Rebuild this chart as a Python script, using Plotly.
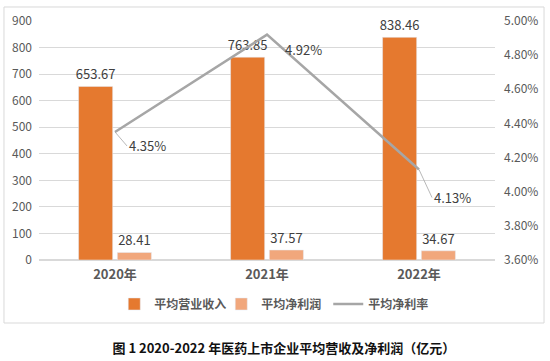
import plotly.graph_objects as go

categories = ["2020年", "2021年", "2022年"]
revenue = [653.67, 763.85, 838.46]
profit = [28.41, 37.57, 34.67]
margin = [0.0435, 0.0492, 0.0413]
margin_labels = ["4.35%", "4.92%", "4.13%"]
title_text = "图 1 2020-2022 年医药上市企业平均营收及净利润（亿元）"

FONT = "Noto Sans CJK SC"
fig = go.Figure()
fig.add_trace(go.Bar(
    x=categories, y=revenue, name="平均营业收入",
    marker=dict(color="#E5792F"),
    texttemplate="%{y:.2f}", textposition="outside", constraintext="none",
    textfont=dict(size=13, color="#404040", family=FONT),
    cliponaxis=False,
))
fig.add_trace(go.Bar(
    x=categories, y=profit, name="平均净利润",
    marker=dict(color="#F1A77C"),
    texttemplate="%{y:.2f}", textposition="outside", constraintext="none",
    textfont=dict(size=13, color="#404040", family=FONT),
    cliponaxis=False,
))
fig.add_trace(go.Scatter(
    x=categories, y=margin, name="平均净利率", yaxis="y2",
    mode="lines", line=dict(color="#A6A6A6", width=2.5),
    cliponaxis=False,
))

offsets = [(12, 14), (16, 15), (13, 28)]
for c, v, t, (ax, ay) in zip(categories, margin, margin_labels, offsets):
    fig.add_annotation(
        x=c, y=v, xref="x", yref="y2", text=t,
        showarrow=True, arrowhead=0, arrowwidth=0.8, arrowcolor="#A6A6A6",
        ax=ax, ay=ay, xanchor="left", yanchor="middle",
        font=dict(size=13, color="#404040", family=FONT),
    )

# outer chart frame
fig.add_shape(type="rect", xref="paper", yref="paper",
              x0=-0.0768, x1=1.1075, y0=-0.2636, y1=1.0586,
              line=dict(color="#D9D9D9", width=1), layer="below")

fig.update_layout(
    width=550, height=361,
    margin=dict(l=39, r=55, t=21, b=101),
    paper_bgcolor="white", plot_bgcolor="white",
    font=dict(family=FONT, color="#595959", size=12),
    barmode="group", bargap=0.49, bargroupgap=0.12,
    showlegend=True,
    legend=dict(orientation="h", x=0.517, xanchor="center", y=-0.184, yanchor="middle",
                font=dict(size=12, color="#595959", family=FONT, weight="bold"),
                itemwidth=30, traceorder="normal", entrywidth=62, entrywidthmode="pixels"),
    xaxis=dict(showgrid=False, showline=False, ticks="", ticklabelstandoff=5,
               tickfont=dict(size=13, color="#595959", family=FONT, weight="bold")),
    yaxis=dict(range=[0, 900], dtick=100, showgrid=True, gridcolor="#D9D9D9", gridwidth=1,
               zeroline=True, zerolinecolor="#D9D9D9", showline=False, ticks="",
               tickfont=dict(size=12, color="#595959"), ticklabelstandoff=6),
    yaxis2=dict(range=[0.036, 0.050], dtick=0.002, tickformat=".2%", overlaying="y",
                side="right", showgrid=False, zeroline=False, showline=False, ticks="",
                tickfont=dict(size=12, color="#595959"), ticklabelstandoff=8),
    title=dict(text=title_text, x=0.516, xanchor="center", y=0.036, yanchor="middle",
               font=dict(size=13, color="#111111", family=FONT, weight="bold")),
)

fig.write_html("out.html", config={"displayModeBar": False},
               post_script="document.body.style.margin='0';")
